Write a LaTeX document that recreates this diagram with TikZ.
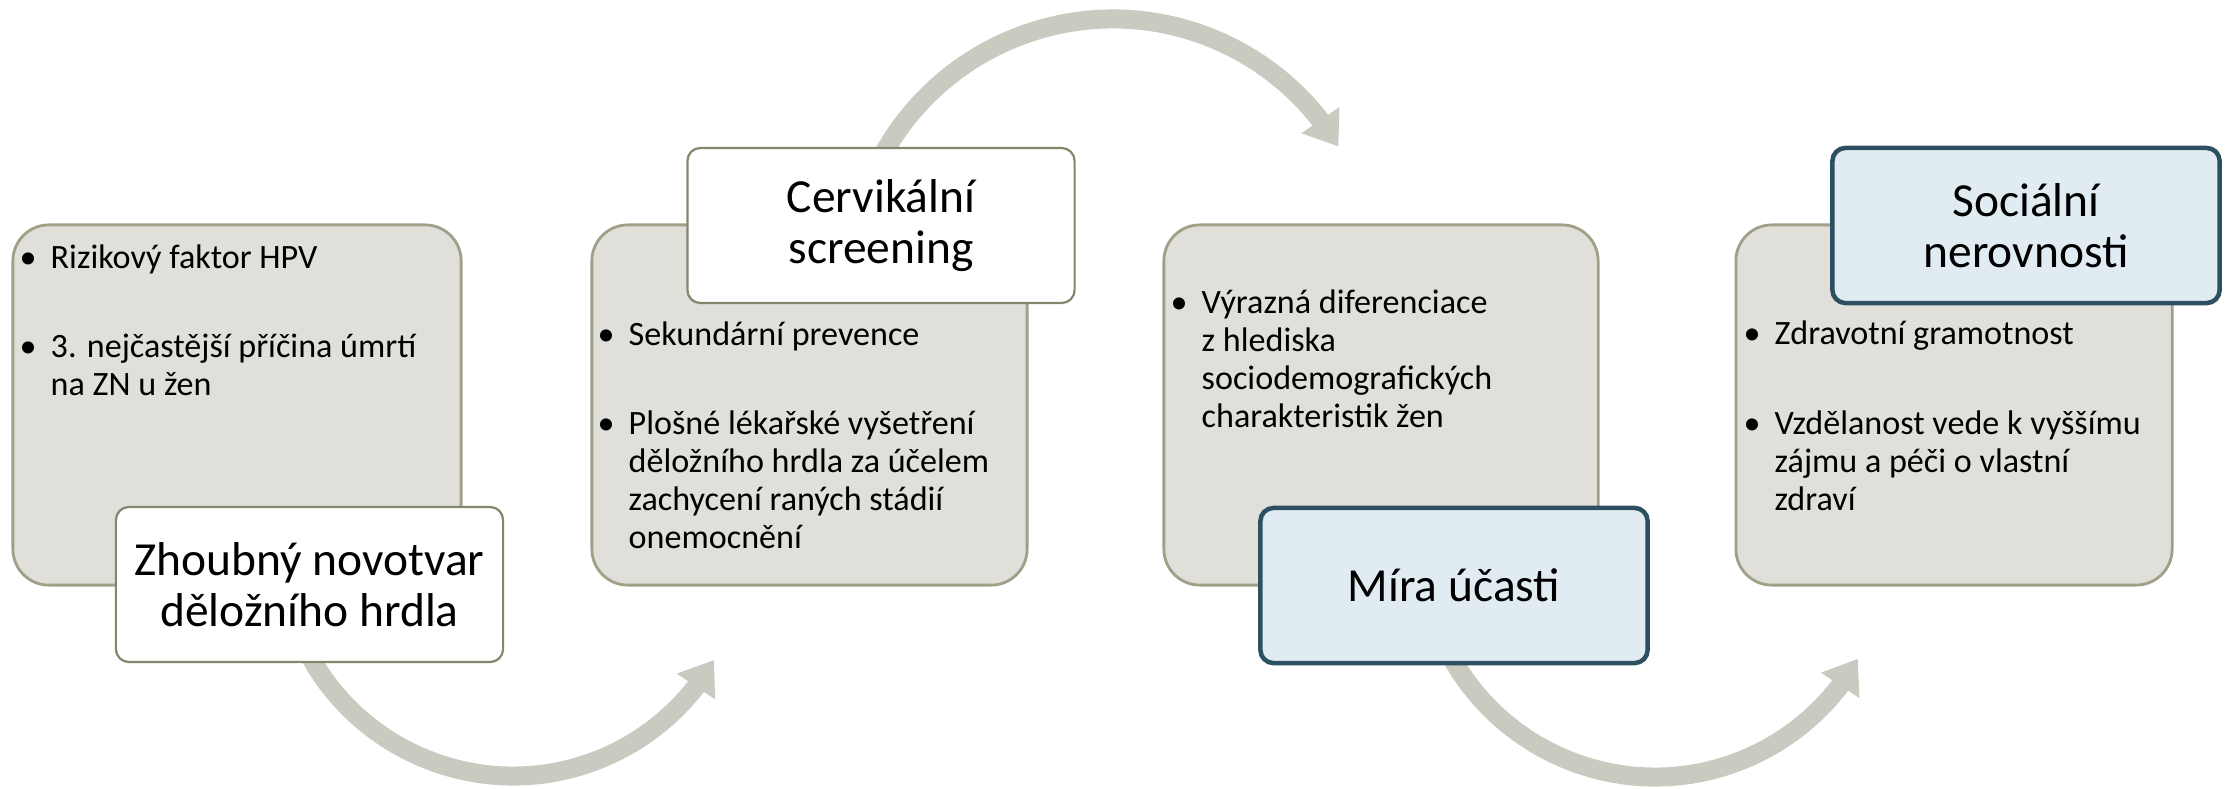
\documentclass[tikz,border=0pt]{standalone}
\usepackage{fontspec}
\setmainfont{Carlito}
\usetikzlibrary{arrows.meta,bending}
\definecolor{boxgray}{HTML}{E0DFDA}
\definecolor{boxedge}{HTML}{A09F87}
\definecolor{whiteedge}{HTML}{86866E}
\definecolor{bluefill}{HTML}{E1ECF2}
\definecolor{blueedge}{HTML}{2C4F61}
\definecolor{arrowgray}{HTML}{CACAC0}
\newcommand{\bul}{\makebox[2.2mm][l]{\hspace{-0.9mm}\textbullet}}
\newcommand{\ind}{\hspace*{2.2mm}}
\tikzset{
  graybox/.style={draw=boxedge, fill=boxgray, line width=0.28mm, rounded corners=3.6mm, inner sep=0pt, minimum height=3.6cm},
  headbox/.style={draw=whiteedge, fill=white, line width=0.22mm, rounded corners=1.3mm, inner sep=0pt,
    minimum width=3.87cm, minimum height=1.55cm, align=center, font=\fontsize{13.5}{14.6}\selectfont},
  bluebox/.style={headbox, draw=blueedge, fill=bluefill, line width=0.45mm},
  bullets/.style={anchor=base west, inner sep=0pt, align=left, font=\fontsize{9.7}{10.8}\selectfont},
  arr/.style={draw=arrowgray, line width=1.9mm, -{Triangle[width=4.4mm, length=3.2mm]}}
}
\begin{document}
\begin{tikzpicture}[x=0.01cm, y=-0.01cm]
\useasboundingbox (0,0) rectangle (2231,788);
% arc centres
\coordinate (c1) at (513,544);
\coordinate (c2) at (1113,282);
\coordinate (c3) at (1655,544);
% grey content boxes
\node[graybox, minimum width=4.48cm] (g1) at (237,405) {};
\node[graybox, minimum width=4.35cm] (g2) at (809.5,405) {};
\node[graybox, minimum width=4.34cm] (g3) at (1381,405) {};
\node[graybox, minimum width=4.36cm] (g4) at (1954,405) {};
% curved arrows
\draw[arr] ([shift={(155:232)}]c1) arc[start angle=155, end angle=30, radius=232];
\draw[arr] ([shift={(205:263)}]c2) arc[start angle=205, end angle=329, radius=263];
\draw[arr] ([shift={(155:233)}]c3) arc[start angle=155, end angle=29.5, radius=233];
% bullet texts (anchored at the baseline of their last line)
\node[bullets] (t1) at (28,395) {\bul Rizikový faktor HPV\\[14.3pt]
  \bul 3. nejčastější příčina úmrtí\\
  \ind na ZN u žen};
\node[bullets] (t2) at (606,548) {\bul Sekundární prevence\\[14.3pt]
  \bul Plošné lékařské vyšetření\\
  \ind děložního hrdla za účelem\\
  \ind zachycení raných stádií\\
  \ind onemocnění};
\node[bullets] (t3) at (1179,427) {\bul Výrazná diferenciace\\
  \ind z hlediska\\
  \ind sociodemografických\\
  \ind charakteristik žen};
\node[bullets] (t4) at (1752,510) {\bul Zdravotní gramotnost\\[14.8pt]
  \bul Vzdělanost vede k vyššímu\\
  \ind zájmu a péči o vlastní\\
  \ind zdraví};
% title boxes
\node[headbox] (h1) at (309.5,584.5) {Zhoubný novotvar\\děložního hrdla};
\node[headbox] (h2) at (881,225.5) {Cervikální\\screening};
\node[bluebox] (h3) at (1454,585.5) {Míra účasti};
\node[bluebox] (h4) at (2026,225.5) {Sociální\\nerovnosti};
\end{tikzpicture}
\end{document}
